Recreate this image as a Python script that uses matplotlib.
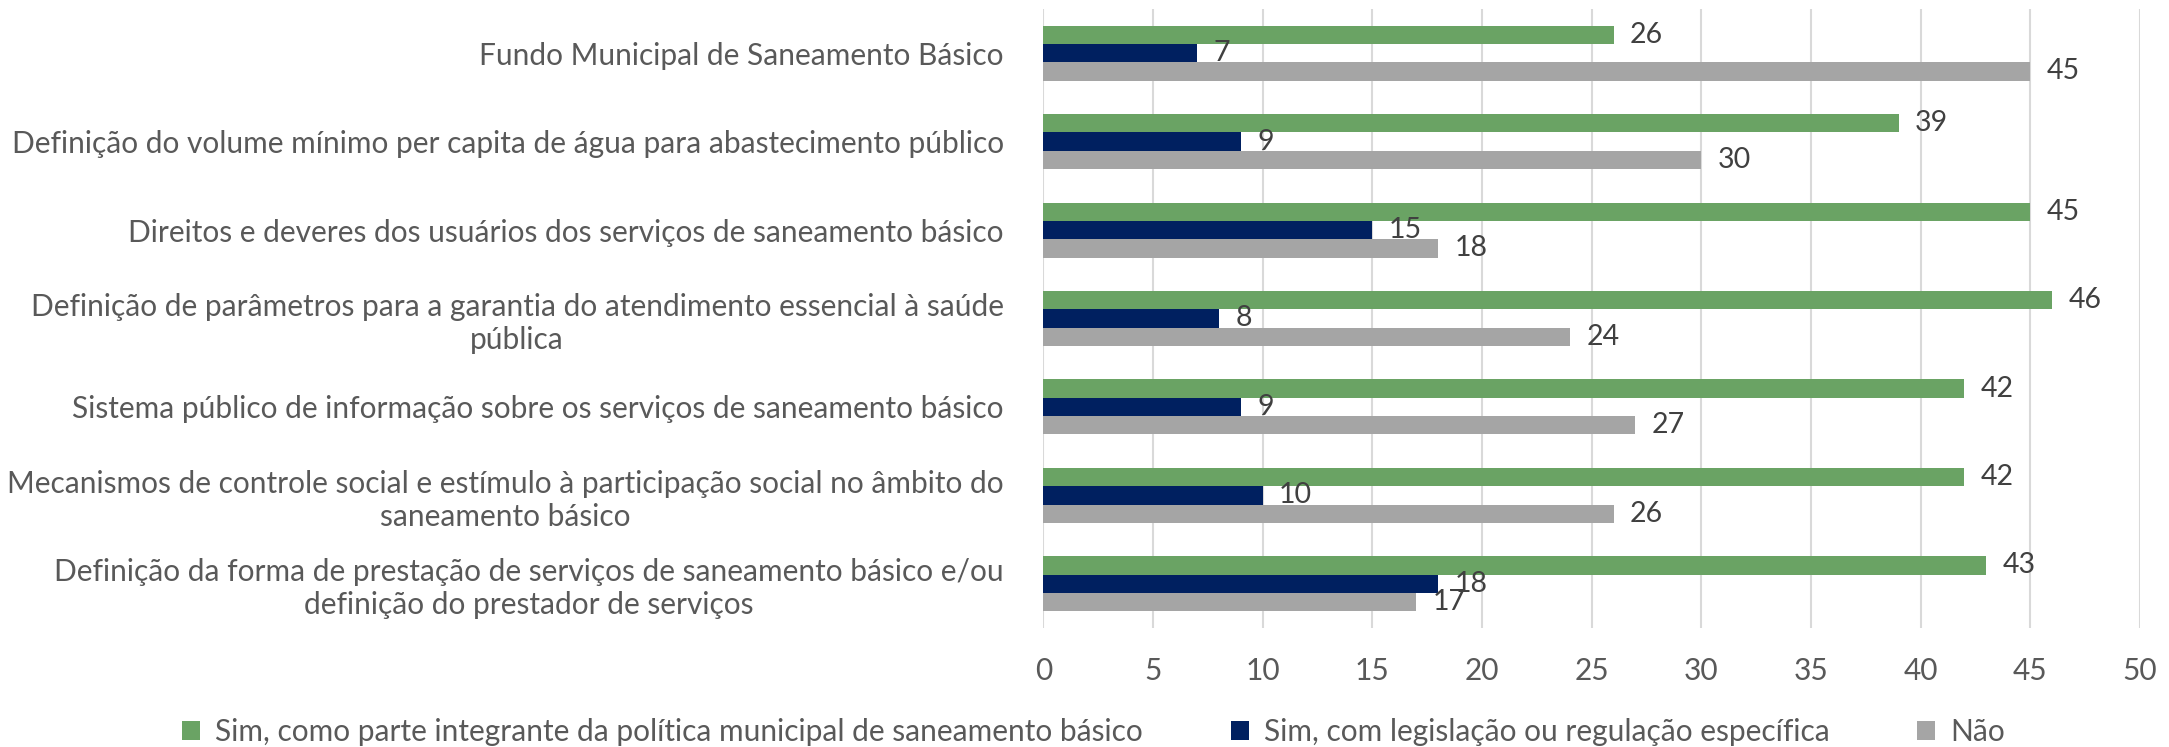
import numpy as np
import matplotlib
matplotlib.use("Agg")
import matplotlib.pyplot as plt

# Dados do gráfico (de cima para baixo)
categorias = [
    "Fundo Municipal de Saneamento Básico",
    "Definição do volume mínimo per capita de água para abastecimento público",
    "Direitos e deveres dos usuários dos serviços de saneamento básico",
    "Definição de parâmetros para a garantia do atendimento essencial à saúde\npública",
    "Sistema público de informação sobre os serviços de saneamento básico",
    "Mecanismos de controle social e estímulo à participação social no âmbito do\nsaneamento básico",
    "Definição da forma de prestação de serviços de saneamento básico e/ou\ndefinição do prestador de serviços",
]
sim_politica = [26, 39, 45, 46, 42, 42, 43]
sim_legislacao = [7, 9, 15, 8, 9, 10, 18]
nao = [45, 30, 18, 24, 27, 26, 17]

series = [
    ("Sim, como parte integrante da política municipal de saneamento básico", sim_politica, "#6AA364"),
    ("Sim, com legislação ou regulação específica", sim_legislacao, "#002060"),
    ("Não", nao, "#A5A5A5"),
]

plt.rcParams['font.family'] = ['Lato', 'DejaVu Sans']

fig = plt.figure(figsize=(21.69, 7.47), dpi=100)
ax = fig.add_axes([0.481, 0.1593, 0.5056, 0.8287])

y = np.arange(len(categorias))
h = 0.207

for i, (nome, vals, cor) in enumerate(series):
    pos = y + (i - 1) * h
    barras = ax.barh(pos, vals, height=h, color=cor, label=nome, zorder=3)
    for b, v in zip(barras, vals):
        ax.text(v + 0.75, b.get_y() + h / 2, str(v), va='center', ha='left',
                fontsize=20.5, color='#404040', zorder=4)

ax.set_xlim(0, 50)
ax.set_ylim(len(categorias) - 0.5, -0.5)
ax.set_xticks(range(0, 51, 5))
ax.set_yticks(y)
ax.set_yticklabels(categorias, fontsize=21.5, color='#595959',
                   multialignment='center', linespacing=1.22)
ax.tick_params(axis='x', labelsize=21.5, labelcolor='#595959', length=0, pad=21)
ax.tick_params(axis='y', length=0, pad=28.5)

ax.grid(axis='x', color='#D9D9D9', linewidth=1.5, zorder=0)
for s in ax.spines.values():
    s.set_visible(False)

fig.legend(loc='center', bbox_to_anchor=(1093.5 / 2169, 1 - 732 / 747), ncol=3,
           frameon=False, fontsize=21.5, labelcolor='#595959',
           handlelength=0.6, handleheight=0.6, handletextpad=0.5, columnspacing=2.95)

fig.savefig("out.png", dpi=100)
